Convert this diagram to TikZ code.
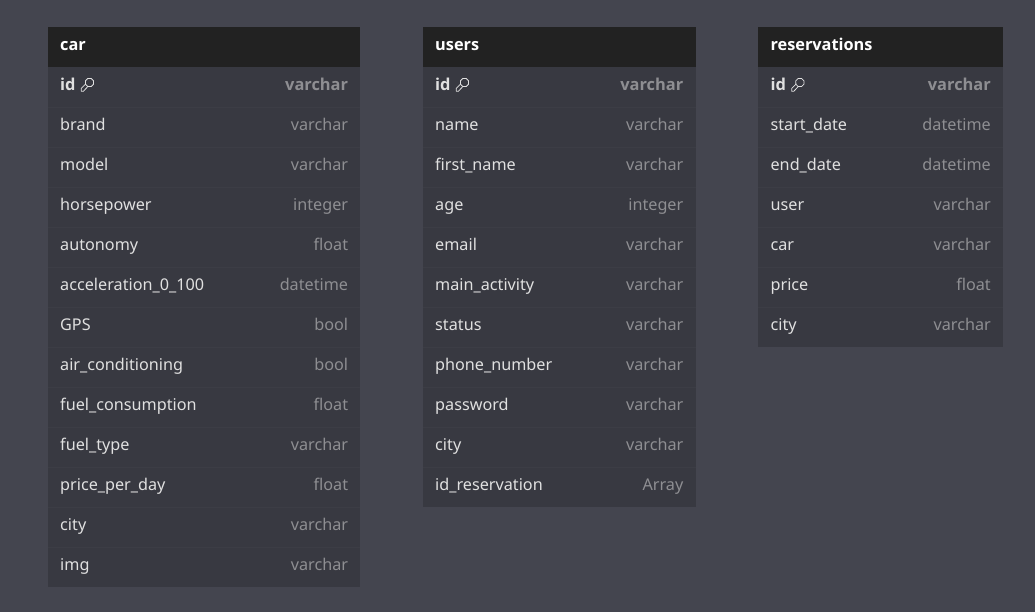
\documentclass[tikz,border=0pt]{standalone}
\usepackage{fontspec}
\setmainfont{Noto Sans}
\newfontfamily\heavyfam{Open Sans}
\definecolor{bgc}{HTML}{44454F}
\definecolor{headc}{HTML}{222222}
\definecolor{rowc}{HTML}{383941}
\definecolor{sepc}{HTML}{3C3D45}
\definecolor{namec}{HTML}{E0E0E0}
\definecolor{typec}{HTML}{8E8E92}
\tikzset{
  x=1pt,y=-1pt,
  titletxt/.style={anchor=base west,inner sep=0pt,text=white,font=\heavyfam\fontsize{16.3}{16}\selectfont\bfseries},
  nametxt/.style={anchor=base west,inner sep=0pt,text=namec,font=\fontsize{16.2}{16}\selectfont},
  typetxt/.style={anchor=base east,inner sep=0pt,text=typec,font=\fontsize{16.2}{16}\selectfont},
  pknametxt/.style={nametxt,font=\heavyfam\fontsize{16.4}{16}\selectfont\bfseries},
  pktypetxt/.style={typetxt,font=\heavyfam\fontsize{16.4}{16}\selectfont\bfseries},
  sepline/.style={draw=sepc,line width=0.8pt},
  keyicon/.style={draw=namec,line width=0.8pt,line cap=round,line join=round}
}
% #1 prefix, #2 left, #3 right, #4 title, #5 list of name/type
\newcommand{\dbtable}[5]{%
  \fill[headc] (#2,27) rectangle (#3,67);
  \node[titletxt] (#1title) at (#2+12,50.5) {#4};
  \foreach \nm/\ty [count=\i from 0, evaluate=\i as \ya using {67+40*\i}, evaluate=\i as \yb using {107+40*\i}, evaluate=\i as \yt using {90.3+40*\i}] in {#5} {
    \fill[rowc] (#2,\ya) rectangle (#3,\yb);
    \ifnum\i>0 \draw[sepline] (#2,\ya) -- (#3,\ya); \fi
    \ifnum\i=0
      \node[pknametxt] (#1n\i) at (#2+12,\yt) {\nm};
      \node[pktypetxt] (#1t\i) at (#3-12,\yt) {\ty};
      \draw[keyicon] (#2+37.45,84.22) -- (#2+33.25,88.42) -- (#2+33.25,91.3) -- (#2+35.4,91.3) -- (#2+39.78,86.55);
      \draw[keyicon] (#2+37.45,84.22) arc[start angle=157,end angle=-247,radius=4.4];
    \else
      \node[nametxt] (#1n\i) at (#2+12,\yt) {\nm};
      \node[typetxt] (#1t\i) at (#3-12,\yt) {\ty};
    \fi
  }
}
\begin{document}
\begin{tikzpicture}
\useasboundingbox (0,0) rectangle (1035,612);
\fill[bgc] (0,0) rectangle (1035,612);
\dbtable{c}{48}{360.3}{car}{id/varchar,brand/varchar,model/varchar,horsepower/integer,autonomy/float,acceleration\_0\_100/datetime,GPS/bool,air\_conditioning/bool,fuel\_consumption/float,fuel\_type/varchar,price\_per\_day/float,city/varchar,img/varchar}
\dbtable{u}{423}{695.5}{users}{id/varchar,name/varchar,first\_name/varchar,age/integer,email/varchar,main\_activity/varchar,status/varchar,phone\_number/varchar,password/varchar,city/varchar,id\_reservation/Array}
\dbtable{r}{758.4}{1003}{reservations}{id/varchar,start\_date/datetime,end\_date/datetime,user/varchar,car/varchar,price/float,city/varchar}
\end{tikzpicture}
\end{document}
